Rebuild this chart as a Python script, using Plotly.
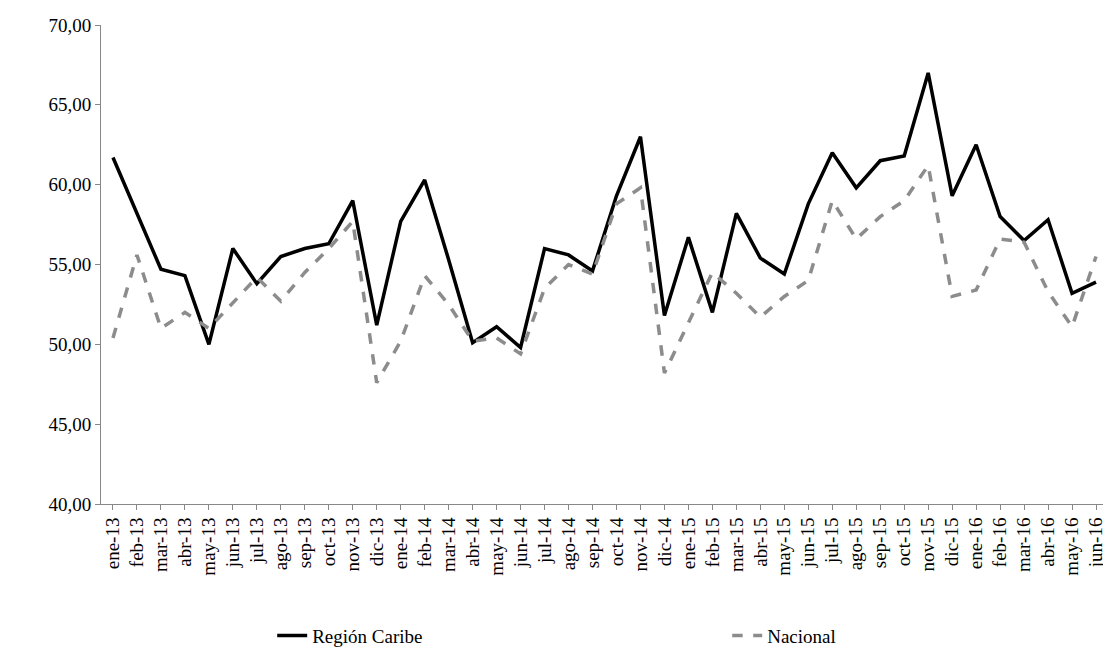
import plotly.graph_objects as go

months = ['ene', 'feb', 'mar', 'abr', 'may', 'jun', 'jul', 'ago', 'sep', 'oct', 'nov', 'dic']
periods = [f'{m}-{y}' for y in ['13', '14', '15', '16'] for m in months][:42]

caribe = [61.7, 58.2, 54.7, 54.3, 50.0, 56.0, 53.8, 55.5, 56.0, 56.3, 59.0, 51.2,
          57.7, 60.3, 55.3, 50.1, 51.1, 49.8, 56.0, 55.6, 54.6, 59.3, 63.0, 51.8,
          56.7, 52.0, 58.2, 55.4, 54.4, 58.8, 62.0, 59.8, 61.5, 61.8, 67.0, 59.3,
          62.5, 58.0, 56.5, 57.8, 53.2, 53.9]
nacional = [50.4, 55.6, 51.0, 52.0, 51.0, 52.6, 54.2, 52.7, 54.5, 56.0, 57.7, 47.6,
            50.2, 54.3, 52.5, 50.2, 50.4, 49.4, 53.5, 55.0, 54.4, 58.8, 59.8, 48.2,
            51.3, 54.5, 53.2, 51.7, 53.0, 54.0, 59.0, 56.6, 58.0, 59.0, 61.2, 53.0,
            53.4, 56.6, 56.4, 53.3, 51.1, 55.5]

y_ticks = [40, 45, 50, 55, 60, 65, 70]
y_labels = [f'{v:.2f}'.replace('.', ',') for v in y_ticks]

fig = go.Figure()
fig.add_trace(go.Scatter(x=periods, y=caribe, name='Región Caribe', mode='lines',
                         line=dict(color='black', width=3.5)))
fig.add_trace(go.Scatter(x=periods, y=nacional, name='Nacional', mode='lines',
                         line=dict(color='#8c8c8c', width=3.5, dash='dash')))
fig.update_layout(
    width=1111, height=661, plot_bgcolor='white', paper_bgcolor='white',
    font=dict(family='Liberation Serif', size=19, color='black'),
    margin=dict(l=93, r=11, t=17, b=165, autoexpand=False),
    xaxis=dict(tickangle=-90, showline=True, linecolor='#888', ticks='outside',
               tickcolor='#888', range=[-0.5, 41.5], showgrid=False),
    yaxis=dict(range=[40, 70], tickvals=y_ticks, ticktext=y_labels, showline=True,
               linecolor='#888', ticks='outside', tickcolor='#888', showgrid=False),
    legend=dict(orientation='h', x=0.17, xanchor='left', y=-0.235, yanchor='top',
                entrywidth=410, font=dict(size=19)),
)
fig.write_html('out.html')
